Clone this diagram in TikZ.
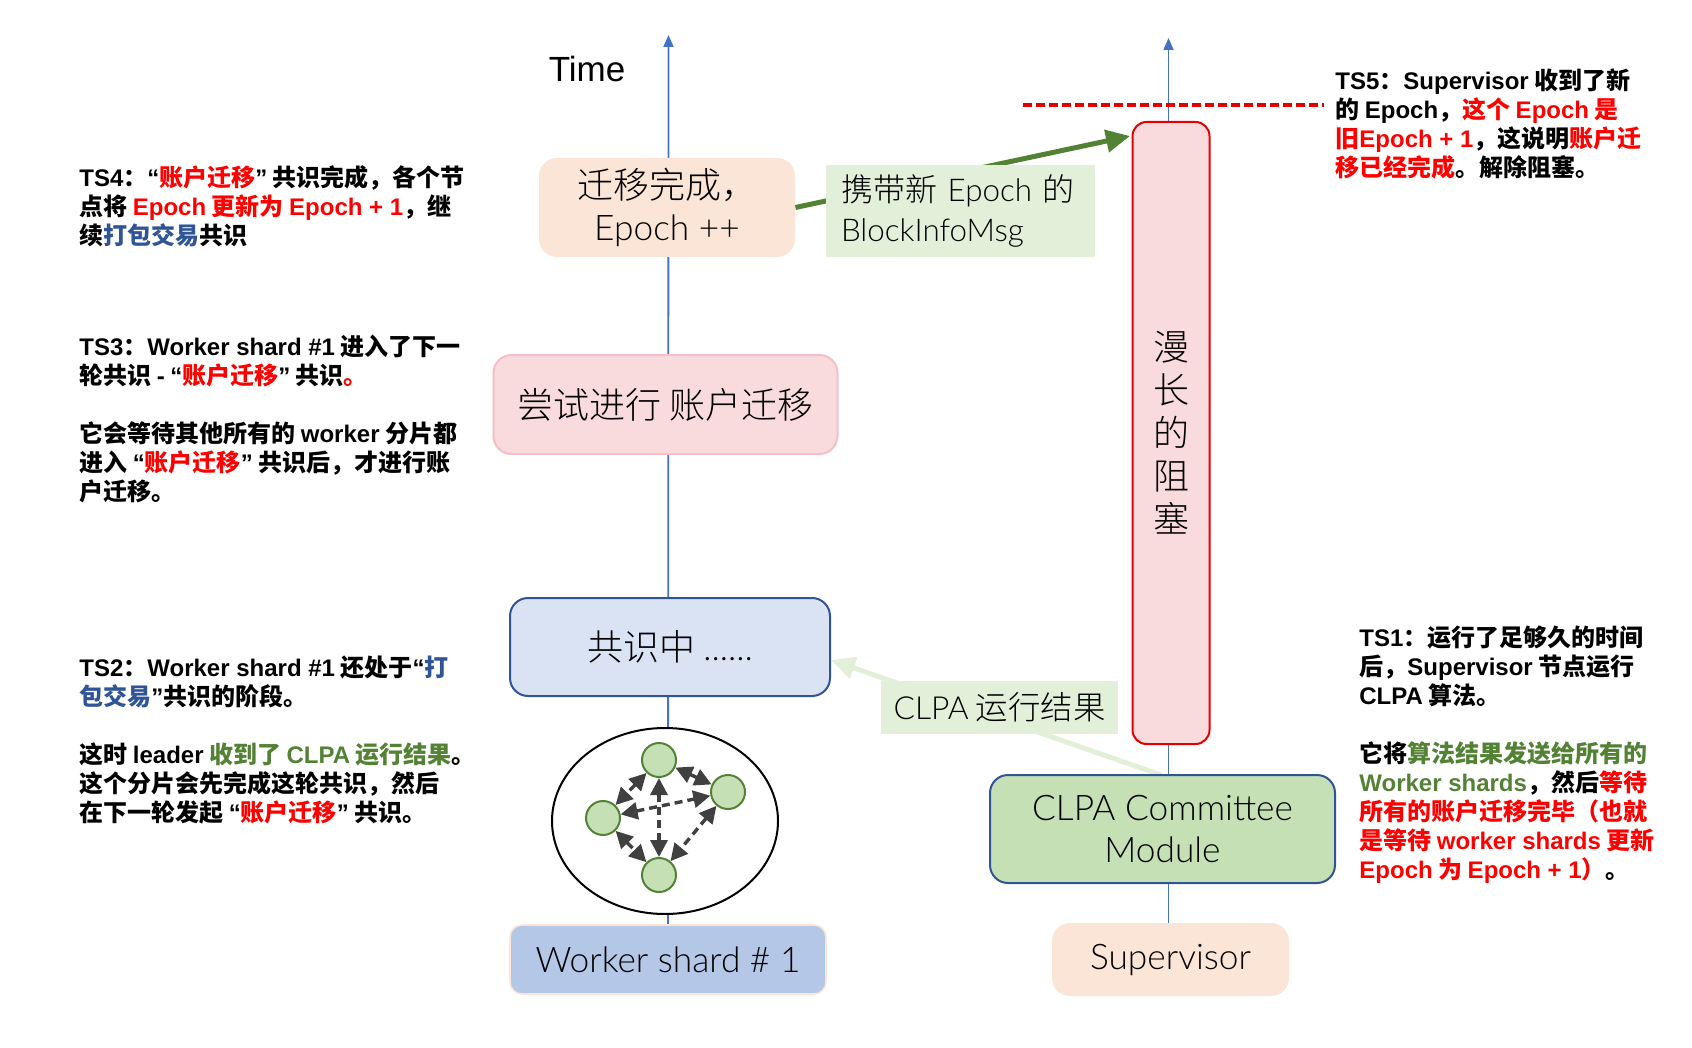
\documentclass[tikz,border=0pt]{standalone}
\usepackage{fontspec}
\usetikzlibrary{arrows.meta,calc,shapes.geometric}
\setmainfont{Liberation Sans}
\newfontfamily\zhfont{Noto Sans CJK SC}
\newfontfamily\zhlight{Noto Sans CJK SC}[UprightFont={* Light}]
\newfontfamily\boxla{Lato}[UprightFont={* Light},Scale=0.98]
\newcommand{\la}[1]{{\rmfamily\bfseries #1}}
\newcommand{\lt}[1]{{\boxla #1}}
\newcommand{\rd}[1]{\textcolor{tsred}{#1}}
\newcommand{\gr}[1]{\textcolor{tsgreen}{#1}}
\newcommand{\bl}[1]{\textcolor{tsblue}{#1}}
\definecolor{tsred}{HTML}{FF0000}
\definecolor{tsgreen}{HTML}{548235}
\definecolor{tsblue}{HTML}{2F5597}
\definecolor{axisblue}{HTML}{4472C4}
\definecolor{peach}{HTML}{FBE5D6}
\definecolor{pinkfill}{HTML}{F9DADD}
\definecolor{pinkline}{HTML}{F4BFC6}
\definecolor{bluefill}{HTML}{DAE3F3}
\definecolor{shardfill}{HTML}{B4C7E7}
\definecolor{greenfill}{HTML}{C5E0B4}
\definecolor{labelfill}{HTML}{E2F0D9}
\definecolor{darkarrow}{HTML}{404040}
\pgfdeclarelayer{bg}
\pgfsetlayers{bg,main}
\tikzset{
  x=0.5pt,y=-0.5pt,
  note/.style={anchor=north west,inner sep=0pt,align=left,text=black,
    font=\fontsize{12}{14.5}\zhfont\bfseries},
  boxbase/.style={rounded corners=9pt,inner sep=0pt,align=center,
    font=\fontsize{18}{21}\zhlight},
  axisline/.style={axisblue,line width=0.9pt,-{Triangle[length=6pt,width=5pt]}},
  peer/.style={circle,draw=tsgreen,fill=greenfill,line width=1pt,minimum size=17pt,inner sep=0pt},
  peerlink/.style={darkarrow,line width=1.7pt,dash pattern=on 4pt off 2.5pt,
    {Triangle[length=8.5pt,width=8.5pt]}-{Triangle[length=8.5pt,width=8.5pt]}},
  msg/.style={inner sep=0pt,fill=labelfill,align=left,font=\fontsize{16}{20}\zhlight},
}
\begin{document}
\begin{tikzpicture}
\useasboundingbox (0,0) rectangle (1692,1048);
% boxes
\node[boxbase,fill=shardfill,draw=peach,line width=0.8pt,minimum width=158pt,minimum height=34.5pt,rounded corners=6pt] (worker) at (668,959.5) {\lt{Worker shard \# 1}};
\node[boxbase,fill=bluefill,draw=tsblue,line width=1pt,minimum width=160pt,minimum height=49pt] (consensus) at (670,647) {共识中 \lt{......}};
\node[boxbase,fill=pinkfill,draw=pinkline,line width=1pt,minimum width=172pt,minimum height=49.5pt] (attempt) at (665.5,404.5) {尝试进行 账户迁移};
\node[boxbase,fill=peach,minimum width=128pt,minimum height=49.5pt] (done) at (667,207.5) {迁移完成，\\\lt{Epoch ++}};
\node[boxbase,fill=peach,minimum width=118.5pt,minimum height=36.5pt] (supervisor) at (1170.5,959.5) {\lt{Supervisor}};
\node[boxbase,fill=greenfill,draw=tsblue,line width=1pt,minimum width=172.5pt,minimum height=54pt] (clpa) at (1162.5,829) {\lt{CLPA Committee}\\\lt{Module}};
\node[boxbase,fill=pinkfill,draw=tsred!90!black,line width=1pt,minimum width=38.5pt,minimum height=311pt,rounded corners=7pt,font=\fontsize{18}{20}\zhlight] (bar) at (1171,433) {漫\\[1.5pt]长\\[1.5pt]的\\[1.5pt]阻\\[1.5pt]塞};
% ellipse and peers
\node[ellipse,draw=black,fill=white,line width=1pt,minimum width=113pt,minimum height=93pt,inner sep=0pt] (cloud) at (665,821) {};
\node[peer] (pt) at (659,760) {};
\node[peer] (pr) at (728,792) {};
\node[peer] (pl) at (603,818) {};
\node[peer] (pb) at (659,875) {};
\draw[peerlink] (pt) -- (pl);
\draw[peerlink] (pt) -- (pr);
\draw[peerlink] (pt) -- (pb);
\draw[peerlink] (pl) -- (pr);
\draw[peerlink] (pl) -- (pb);
\draw[peerlink] (pr) -- (pb);
% free connector ends
\coordinate (leftTop) at (668.5,35);
\coordinate (rightTop) at (1168.5,38);
\coordinate (rightBase) at (1168.5,923);
\coordinate (greenTip) at (1130,136);
\coordinate (lightStart) at (1161,775);
\coordinate (lightTip) at (831,660);
\coordinate (dashL) at (1023,105);
\coordinate (dashR) at (1324,105);
\begin{pgfonlayer}{bg}
\draw[axisline] (worker.north) -- (leftTop);
\draw[axisline] (rightBase) -- (rightTop);
\draw[tsgreen,line width=2.5pt,-{Triangle[length=12pt,width=11pt]}] (done.east) -- (greenTip);
\draw[labelfill,line width=2.5pt,-{Triangle[length=12pt,width=11pt]}] (lightStart) -- (lightTip);
\end{pgfonlayer}
\draw[tsred!90!black,line width=2.2pt,dash pattern=on 4.5pt off 2pt] (dashL) -- (dashR);
% message labels
\node[msg,minimum width=134.5pt,minimum height=46pt,text width=119pt] (msgepoch) at (960,211) {携带新 \lt{Epoch} 的\\\lt{BlockInfoMsg}};
\node[msg,minimum width=118.5pt,minimum height=26.5pt,align=center,font=\fontsize{16.2}{20}\zhlight] (msgclpa) at (999.5,707.5) {\lt{CLPA} 运行结果};
% Time
\node[inner sep=0pt,font=\fontsize{17.5}{20}\selectfont] (time) at (587,69) {Time};
% notes
\node[note] (ts4) at (79,165) {\la{TS4}：\la{“}\rd{账户迁移}\la{”} 共识完成，各个节\\点将 \rd{\la{Epoch} 更新为 \la{Epoch + 1}}，继\\续\bl{打包交易}共识};
\node[note] (ts3) at (79,335) {\la{TS3}：\la{Worker shard \#1} 进入了下一\\轮共识 \la{-} \la{“}\rd{账户迁移}\la{”} 共识\rd{。}\\[14.5pt]它会等待其他所有的 \la{worker} 分片都\\进入 \la{“}\rd{账户迁移}\la{”} 共识后，才进行账\\户迁移。};
\node[note] (ts2) at (79,655.5) {\la{TS2}：\la{Worker shard \#1} 还处于\la{“}\bl{打}\\\bl{包交易}\la{”}共识的阶段。\\[14.5pt]这时 \la{leader} \gr{收到了 \la{CLPA} 运行结果}。\\这个分片会先完成这轮共识，然后\\在下一轮发起 \la{“}\rd{账户迁移}\la{”} 共识。};
\node[note] (ts1) at (1359,626) {\la{TS1}：运行了足够久的时间\\后，\la{Supervisor} 节点运行\\\la{CLPA} 算法。\\[14.5pt]它将\gr{算法结果发送给所有的}\\\gr{\la{Worker shards}}，然后\rd{等待}\\\rd{所有的账户迁移完毕（也就}\\\rd{是等待 \la{worker shards} 更新}\\\rd{\la{Epoch} 为 \la{Epoch + 1}）}。};
\node[note] (ts5) at (1335,68) {\la{TS5}：\la{Supervisor} 收到了新\\的 \la{Epoch}，\rd{这个 \la{Epoch} 是}\\\rd{旧\la{Epoch + 1}}，这说明\rd{账户迁}\\\rd{移已经完成}。解除阻塞。};
\end{tikzpicture}
\end{document}
